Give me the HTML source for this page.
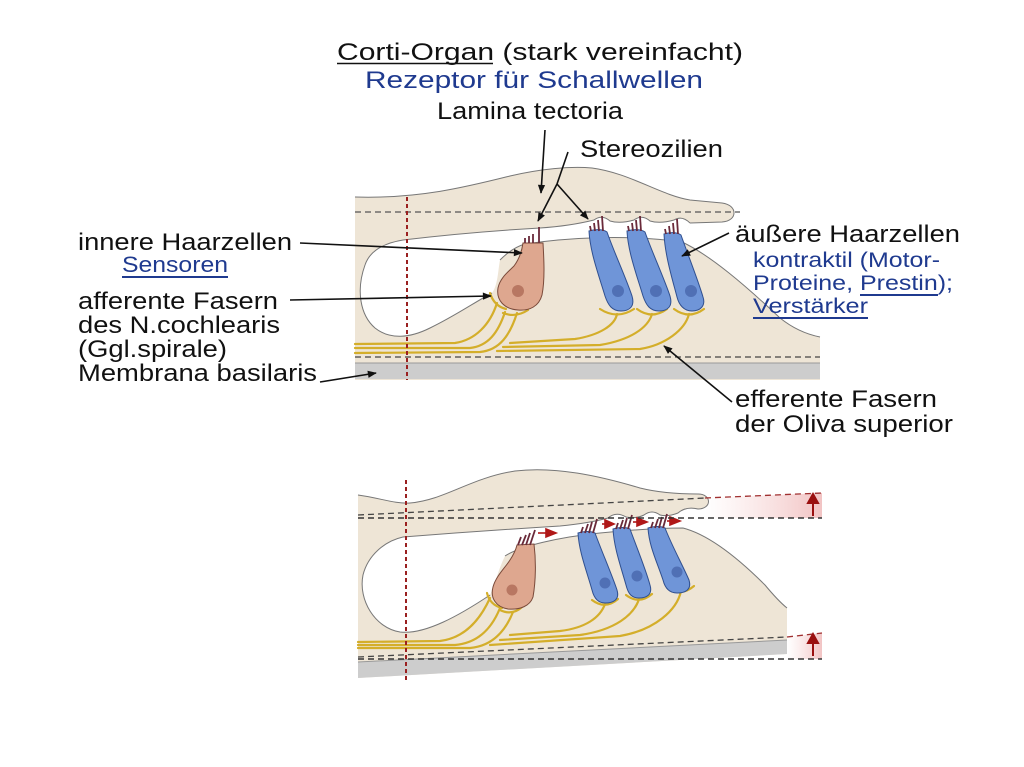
<!DOCTYPE html>
<html><head><meta charset="utf-8"><style>
html,body{margin:0;padding:0;background:#fff;}
svg{display:block;}
text{font-family:"Liberation Sans",Arial,sans-serif;}
</style></head><body>
<svg width="1024" height="767" viewBox="0 0 1024 767" xmlns="http://www.w3.org/2000/svg">
<defs>
<marker id="ah" viewBox="0 0 10 10" refX="9" refY="5" markerWidth="10" markerHeight="9" markerUnits="userSpaceOnUse" orient="auto"><path d="M0,1 L10,5 L0,9 Z" fill="#111"/></marker>
<linearGradient id="pk" x1="0" y1="0" x2="1" y2="0"><stop offset="0" stop-color="#f6d6d6" stop-opacity="0"/><stop offset="1" stop-color="#f2c4c4"/></linearGradient>
</defs>
<rect width="1024" height="767" fill="#fff"/>

<!-- ===== TITLES ===== -->
<text x="337" y="60" font-size="24" fill="#111" textLength="406" lengthAdjust="spacingAndGlyphs">Corti-Organ (stark vereinfacht)</text>
<line x1="337" y1="63.5" x2="493" y2="63.5" stroke="#111" stroke-width="1.5"/>
<text x="365" y="88" font-size="24" fill="#1f3a8f" textLength="338" lengthAdjust="spacingAndGlyphs">Rezeptor für Schallwellen</text>
<text x="437" y="119" font-size="24" fill="#111" textLength="186" lengthAdjust="spacingAndGlyphs">Lamina tectoria</text>
<text x="580" y="157" font-size="24" fill="#111" textLength="143" lengthAdjust="spacingAndGlyphs">Stereozilien</text>

<!-- ===== TOP DIAGRAM ===== -->
<path d="M355,197 C420,199 470,186 510,176 C540,169 570,166 592,168 C630,173 660,195 690,200 L722,203 C738,205 738,221 722,222 L690,223 L682,242 C710,255 745,285 780,318 C795,330 810,335 820,337 L820,380 L355,380 Z" fill="#eee5d6"/>
<path d="M690,223 Q682,215 674,220 Q660,224 650,221 Q642,214 634,220 Q620,224 610,221 Q602,214 594,220 Q570,226 540,228 Q470,232 403,240 C385,243 370,250 365,265 C356,290 360,315 375,328 C390,340 410,338 430,328 C455,316 475,302 492,293 C498,285 498,270 500,260 C510,250 518,246 525,244 C565,238 625,234 682,242 Z" fill="#fff"/>
<path d="M355,197 C420,199 470,186 510,176 C540,169 570,166 592,168 C630,173 660,195 690,200 L722,203 C738,205 738,221 722,222 L690,223" fill="none" stroke="#777" stroke-width="1"/>
<path d="M690,223 Q682,215 674,220 Q660,224 650,221 Q642,214 634,220 Q620,224 610,221 Q602,214 594,220 Q570,226 540,228 Q470,232 403,240 C385,243 370,250 365,265 C356,290 360,315 375,328 C390,340 410,338 430,328 C455,316 475,302 492,293" fill="none" stroke="#777" stroke-width="1"/>
<path d="M500,260 C510,250 518,246 525,244 C565,238 625,234 682,242 C710,255 745,285 780,318 C795,330 810,335 820,337" fill="none" stroke="#777" stroke-width="1"/>
<!-- basilar -->
<rect x="355" y="363" width="465" height="16" fill="#cdcdcd"/>
<line x1="355" y1="363" x2="820" y2="363" stroke="#999" stroke-width="1"/>
<!-- fibers -->
<g fill="none" stroke="#d4ae2a" stroke-width="2.2" stroke-linecap="round">
<path d="M497,303 C490,325 475,340 455,343 L355,344"/>
<path d="M505,312 C498,333 488,346 470,348 L355,348"/>
<path d="M517,313 C510,335 500,350 480,352 L355,353"/>
<path d="M490,293 Q494,306 506,309"/>
<path d="M503,313 Q516,318 528,310"/>
<path d="M600,309 Q617,320 634,309"/>
<path d="M617,314 C615,325 600,335 575,339 L510,343"/>
<path d="M637,309 Q652,320 667,309"/>
<path d="M652,314 C648,328 630,340 600,345 L503,347"/>
<path d="M674,309 Q689,320 704,309"/>
<path d="M689,314 C685,330 665,345 640,349 L497,351"/>
</g>
<!-- IHC -->
<path d="M523,243 L543,243 C544,260 545,280 542,295 C539,306 530,311 518,310 C504,309 496,300 498,288 C500,278 508,272 514,266 C520,258 522,250 523,243 Z" fill="#dea78f" stroke="#7a4a3a" stroke-width="1"/>
<circle cx="518" cy="291" r="6" fill="#b87762"/>
<g stroke="#6a2a3a" stroke-width="1.8">
<line x1="525" y1="243" x2="525" y2="238"/><line x1="529" y1="243" x2="529" y2="236"/><line x1="533" y1="243" x2="533" y2="234"/><line x1="539" y1="243" x2="539" y2="227"/>
</g>
<!-- OHCs -->
<g fill="#6f95d8" stroke="#2f4f8f" stroke-width="1">
<path d="M589,231 C595,229 603,229 607,232 C614,252 626,278 632,296 C635,306 630,311 621,311 C612,311 608,305 605,296 C599,276 590,252 589,231 Z"/>
<path d="M627,231 C633,229 641,229 645,232 C652,252 664,278 670,296 C673,306 668,311 659,311 C650,311 646,305 643,296 C637,276 628,252 627,231 Z"/>
<path d="M664,234 C670,232 677,232 681,235 C688,255 698,280 703,297 C706,306 700,311 692,311 C684,311 679,305 677,297 C672,278 665,255 664,234 Z"/>
</g>
<g fill="#5070b5"><circle cx="618" cy="291" r="6"/><circle cx="656" cy="291" r="6"/><circle cx="691" cy="291" r="6"/></g>
<g stroke="#6a2a3a" stroke-width="1.8">
<line x1="591" y1="231" x2="590" y2="226"/><line x1="595" y1="231" x2="594" y2="223"/><line x1="599" y1="231" x2="598" y2="220"/><line x1="603" y1="231" x2="602" y2="216"/>
<line x1="629" y1="231" x2="628" y2="226"/><line x1="633" y1="231" x2="632" y2="223"/><line x1="637" y1="231" x2="636" y2="220"/><line x1="641" y1="231" x2="640" y2="216"/>
<line x1="666" y1="234" x2="665" y2="229"/><line x1="670" y1="234" x2="669" y2="226"/><line x1="674" y1="234" x2="673" y2="223"/><line x1="678" y1="234" x2="677" y2="219"/>
</g>
<!-- dashed -->
<line x1="355" y1="212" x2="740" y2="212" stroke="#555" stroke-width="1.3" stroke-dasharray="6,4"/>
<line x1="355" y1="357" x2="820" y2="357" stroke="#444" stroke-width="1.3" stroke-dasharray="6,4"/>
<line x1="407" y1="197" x2="407" y2="380" stroke="#9a2020" stroke-width="2" stroke-dasharray="4,3"/>

<!-- labels left -->
<text x="78" y="250" font-size="24" fill="#111" textLength="214" lengthAdjust="spacingAndGlyphs">innere Haarzellen</text>
<text x="122" y="272" font-size="22" fill="#1f3a8f" textLength="106" lengthAdjust="spacingAndGlyphs">Sensoren</text>
<line x1="122" y1="277" x2="228" y2="277" stroke="#1f3a8f" stroke-width="2"/>
<text x="78" y="309" font-size="24" fill="#111" textLength="200" lengthAdjust="spacingAndGlyphs">afferente Fasern</text>
<text x="78" y="333" font-size="24" fill="#111" textLength="202" lengthAdjust="spacingAndGlyphs">des N.cochlearis</text>
<text x="78" y="357" font-size="24" fill="#111" textLength="149" lengthAdjust="spacingAndGlyphs">(Ggl.spirale)</text>
<text x="78" y="381" font-size="24" fill="#111" textLength="239" lengthAdjust="spacingAndGlyphs">Membrana basilaris</text>
<!-- labels right -->
<text x="735" y="242" font-size="24" fill="#111" textLength="225" lengthAdjust="spacingAndGlyphs">äußere Haarzellen</text>
<text x="753" y="267" font-size="21" fill="#1f3a8f" textLength="187" lengthAdjust="spacingAndGlyphs">kontraktil (Motor-</text>
<text x="753" y="290" font-size="21" fill="#1f3a8f" textLength="200" lengthAdjust="spacingAndGlyphs">Proteine, Prestin);</text>
<line x1="860" y1="295" x2="938" y2="295" stroke="#1f3a8f" stroke-width="2"/>
<text x="753" y="313" font-size="21" fill="#1f3a8f" textLength="115" lengthAdjust="spacingAndGlyphs">Verstärker</text>
<line x1="753" y1="318" x2="868" y2="318" stroke="#1f3a8f" stroke-width="2"/>
<text x="735" y="407" font-size="24" fill="#111" textLength="202" lengthAdjust="spacingAndGlyphs">efferente Fasern</text>
<text x="735" y="432" font-size="24" fill="#111" textLength="218" lengthAdjust="spacingAndGlyphs">der Oliva superior</text>

<!-- arrows -->
<g stroke="#111" stroke-width="1.6" fill="none">
<line x1="545" y1="130" x2="541" y2="193" marker-end="url(#ah)"/>
<line x1="568" y1="152" x2="557" y2="184"/>
<line x1="557" y1="184" x2="538" y2="221" marker-end="url(#ah)"/>
<line x1="557" y1="184" x2="588" y2="219" marker-end="url(#ah)"/>
<line x1="300" y1="243" x2="522" y2="253" marker-end="url(#ah)"/>
<line x1="290" y1="300" x2="491" y2="296" marker-end="url(#ah)"/>
<line x1="320" y1="382" x2="376" y2="373" marker-end="url(#ah)"/>
<line x1="729" y1="233" x2="682" y2="256" marker-end="url(#ah)"/>
<line x1="732" y1="402" x2="664" y2="346" marker-end="url(#ah)"/>
</g>

<!-- ===== BOTTOM DIAGRAM ===== -->
<path d="M358,495 C380,498 395,504 410,503 C445,500 470,478 515,471 C555,466 600,476 640,488 C660,493 680,494 698,494 C712,494 712,509 698,509 L690,510 L683,528 C710,535 740,560 765,585 C775,597 782,604 787,608 L787,654 L358,678 Z" fill="#eee5d6"/>
<path d="M698,509 Q686,506 678,513 Q668,517 660,515 Q652,509 644,515 Q636,519 626,517 Q616,511 608,518 Q590,523 560,526 Q480,531 403,537 C385,541 368,555 363,575 C358,600 375,628 400,632 C425,635 460,615 490,595 C495,585 498,570 505,556 C520,546 560,537 600,533 C640,529 665,528 683,528 Z" fill="#fff"/>
<path d="M358,495 C380,498 395,504 410,503 C445,500 470,478 515,471 C555,466 600,476 640,488 C660,493 680,494 698,494 C712,494 712,509 698,509 Q686,506 678,513 Q668,517 660,515 Q652,509 644,515 Q636,519 626,517 Q616,511 608,518 Q590,523 560,526 Q480,531 403,537 C385,541 368,555 363,575 C358,600 375,628 400,632 C425,635 460,615 490,595" fill="none" stroke="#777" stroke-width="1"/>
<path d="M505,556 C520,546 560,537 600,533 C640,529 665,528 683,528 C710,535 740,560 765,585 C775,597 782,604 787,608" fill="none" stroke="#777" stroke-width="1"/>
<polygon points="358,662 787,640 787,654 358,678" fill="#cdcdcd"/>
<line x1="358" y1="662" x2="787" y2="640" stroke="#999" stroke-width="1"/>
<!-- pink bands -->
<polygon points="705,498 822,493 822,518 705,518" fill="url(#pk)"/>
<polygon points="787,637 822,633 822,659 787,659" fill="url(#pk)"/>
<!-- fibers -->
<g fill="none" stroke="#d4ae2a" stroke-width="2.2" stroke-linecap="round">
<path d="M490,598 C480,620 465,638 440,641 L358,642"/>
<path d="M500,608 C492,628 478,643 455,645 L358,645"/>
<path d="M513,612 C505,632 492,646 470,648 L358,648"/>
<path d="M487,593 Q490,605 502,608"/>
<path d="M500,610 Q512,616 522,607"/>
<path d="M592,600 Q605,610 618,599"/>
<path d="M605,604 C600,618 585,628 560,631 L510,635"/>
<path d="M626,595 Q639,605 652,594"/>
<path d="M639,599 C634,615 615,630 580,635 L500,640"/>
<path d="M668,587 Q681,597 694,586"/>
<path d="M681,591 C677,610 655,630 620,636 L490,645"/>
</g>
<!-- IHC -->
<path d="M517,545 L534,544 C536,560 536,580 533,597 C530,606 520,610 508,609 C496,607 490,598 493,587 C496,576 505,568 510,560 C514,554 516,549 517,545 Z" fill="#dea78f" stroke="#7a4a3a" stroke-width="1"/>
<circle cx="512" cy="590" r="5.5" fill="#b87762"/>
<g stroke="#6a2a3a" stroke-width="1.8">
<line x1="518" y1="545" x2="521" y2="537"/><line x1="522" y1="545" x2="526" y2="535"/><line x1="526" y1="545" x2="530" y2="533"/><line x1="530" y1="545" x2="535" y2="530"/>
</g>
<!-- OHCs -->
<g fill="#6f95d8" stroke="#2f4f8f" stroke-width="1">
<path d="M578,533 C584,531 591,531 595,533 C602,552 612,575 617,590 C620,600 613,603 605,603 C598,603 594,598 592,590 C587,572 579,552 578,533 Z"/>
<path d="M613,529 C619,527 626,527 630,529 C637,548 646,570 650,585 C653,595 646,598 639,598 C631,598 628,593 626,585 C621,567 614,548 613,529 Z"/>
<path d="M648,528 C654,526 661,526 665,528 C672,546 683,566 689,580 C692,590 685,593 677,593 C669,593 665,588 663,580 C657,562 649,546 648,528 Z"/>
</g>
<g fill="#5070b5"><circle cx="605" cy="583" r="5.5"/><circle cx="637" cy="576" r="5.5"/><circle cx="677" cy="572" r="5.5"/></g>
<g stroke="#6a2a3a" stroke-width="1.8">
<line x1="581" y1="533" x2="583" y2="527"/><line x1="585" y1="533" x2="588" y2="524"/><line x1="589" y1="533" x2="592" y2="522"/><line x1="593" y1="533" x2="597" y2="519"/>
<line x1="616" y1="529" x2="618" y2="523"/><line x1="620" y1="529" x2="623" y2="520"/><line x1="624" y1="529" x2="627" y2="518"/><line x1="628" y1="529" x2="632" y2="515"/>
<line x1="651" y1="528" x2="653" y2="522"/><line x1="655" y1="528" x2="658" y2="519"/><line x1="659" y1="528" x2="662" y2="517"/><line x1="663" y1="528" x2="667" y2="514"/>
</g>
<!-- red arrows in gap -->
<g fill="#b01818" stroke="#b01818" stroke-width="1.6">
<line x1="538" y1="533" x2="548" y2="533"/><path d="M546,529 L556,533 L546,537 Z"/>
<line x1="602" y1="524" x2="607" y2="524"/><path d="M605,520 L614,524 L605,528 Z"/>
<line x1="633" y1="522" x2="639" y2="522"/><path d="M637,518 L647,522 L637,526 Z"/>
<line x1="667" y1="521" x2="672" y2="521"/><path d="M670,517 L680,521 L670,525 Z"/>
</g>
<!-- dashed lines -->
<line x1="358" y1="515" x2="705" y2="498" stroke="#444" stroke-width="1.3" stroke-dasharray="6,4"/>
<line x1="705" y1="498" x2="822" y2="493" stroke="#a03030" stroke-width="1.3" stroke-dasharray="6,4"/>
<line x1="358" y1="518" x2="822" y2="518" stroke="#333" stroke-width="1.5" stroke-dasharray="6,4"/>
<line x1="358" y1="657" x2="787" y2="637" stroke="#444" stroke-width="1.3" stroke-dasharray="6,4"/>
<line x1="787" y1="637" x2="822" y2="633" stroke="#a03030" stroke-width="1.3" stroke-dasharray="6,4"/>
<line x1="358" y1="659" x2="822" y2="659" stroke="#333" stroke-width="1.5" stroke-dasharray="6,4"/>
<line x1="406" y1="480" x2="406" y2="682" stroke="#9a2020" stroke-width="2" stroke-dasharray="4,3"/>
<!-- red up arrows -->
<g stroke="#9a1010" stroke-width="2" fill="#9a1010">
<line x1="813" y1="516" x2="813" y2="502"/><path d="M808,503 L813,494 L818,503 Z"/>
<line x1="813" y1="656" x2="813" y2="642"/><path d="M808,643 L813,634 L818,643 Z"/>
</g>
</svg>
</body></html>
